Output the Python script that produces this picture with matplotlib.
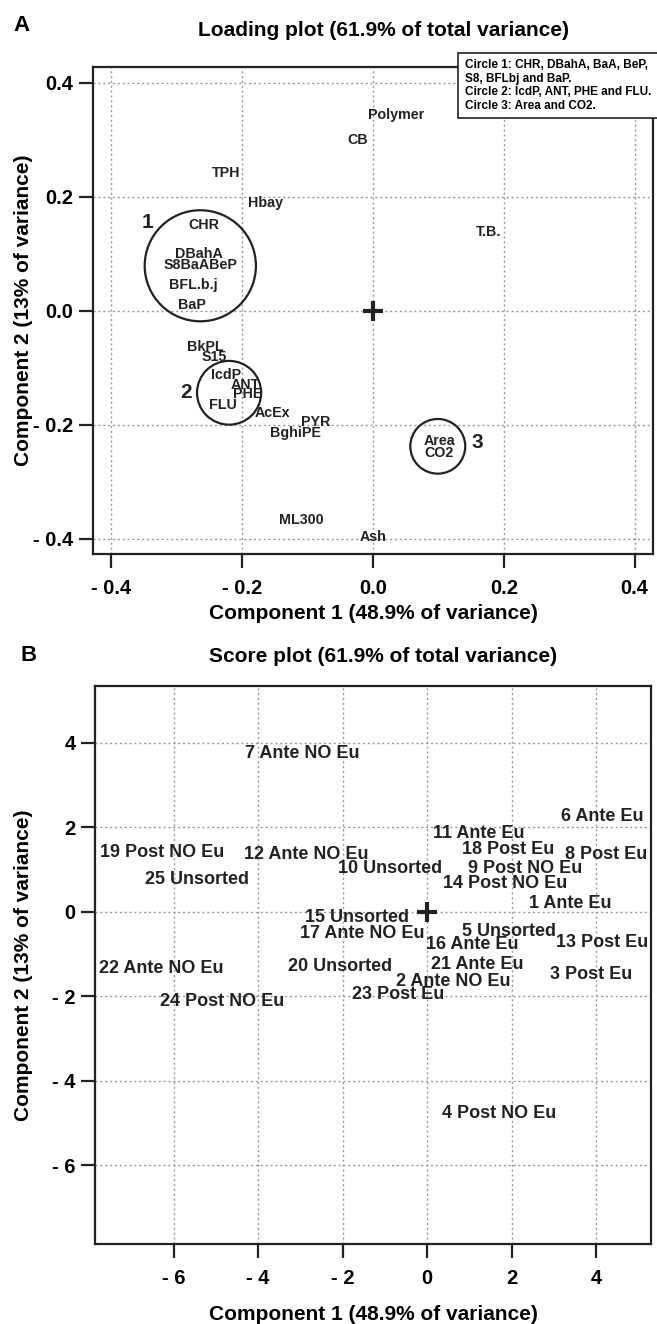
import matplotlib
matplotlib.use("Agg")
import matplotlib.pyplot as plt
from matplotlib import font_manager
from matplotlib.patches import Ellipse, Rectangle

names = sorted(set(f.name for f in font_manager.fontManager.ttflist))
NARROW = "Liberation Sans Narrow" if "Liberation Sans Narrow" in names else "Liberation Sans"
WIDE = "Liberation Sans"

# loading plot data
load_labels = ["Polymer", "CB", "TPH", "Hbay", "T.B.", "CHR", "DBahA", "S8BaABeP",
               "BFL.b.j", "BaP", "BkPL", "S15", "IcdP", "ANT", "PHE", "FLU",
               "AcEx", "PYR", "BghiPE", "Area", "CO2", "ML300", "Ash"]
load_x = [0.035, -0.023, -0.224, -0.164, 0.177, -0.259, -0.266, -0.263,
          -0.275, -0.277, -0.256, -0.243, -0.224, -0.195, -0.192, -0.23,
          -0.154, -0.087, -0.118, 0.101, 0.101, -0.11, 0.0]
load_y = [0.344, 0.30, 0.242, 0.19, 0.138, 0.15, 0.10, 0.081,
          0.046, 0.01, -0.063, -0.082, -0.112, -0.13, -0.146, -0.165,
          -0.18, -0.195, -0.214, -0.229, -0.25, -0.367, -0.397]

circle_ids = ["1", "2", "3"]
circle_cx = [-0.264, -0.22, 0.099]
circle_cy = [0.079, -0.144, -0.238]
circle_w = [0.17, 0.098, 0.084]
circle_h = [0.195, 0.112, 0.096]
circle_num_x = [-0.345, -0.286, 0.16]
circle_num_y = [0.155, -0.143, -0.231]

legend_lines = ["Circle 1: CHR, DBahA, BaA, BeP,", "S8, BFLbj and BaP.",
                "Circle 2: IcdP, ANT, PHE and FLU.", "Circle 3: Area and CO2."]

# score plot data
score_labels = ["7 Ante NO Eu", "6 Ante Eu", "11 Ante Eu", "18 Post Eu", "8 Post Eu",
                "19 Post NO Eu", "12 Ante NO Eu", "10 Unsorted", "9 Post NO Eu",
                "25 Unsorted", "14 Post NO Eu", "1 Ante Eu", "15 Unsorted",
                "17 Ante NO Eu", "5 Unsorted", "16 Ante Eu", "13 Post Eu",
                "22 Ante NO Eu", "20 Unsorted", "21 Ante Eu", "3 Post Eu",
                "2 Ante NO Eu", "23 Post Eu", "24 Post NO Eu", "4 Post NO Eu"]
score_x = [-2.95, 4.15, 1.22, 1.92, 4.24, -6.27, -2.85, -0.88, 2.32, -5.45,
           1.84, 3.4, -1.66, -1.54, 1.93, 1.07, 4.15, -6.29, -2.06, 1.18,
           3.88, 0.62, -0.69, -4.85, 1.71]
score_y = [3.76, 2.25, 1.85, 1.47, 1.37, 1.40, 1.37, 1.02, 1.04, 0.78,
           0.68, 0.21, -0.12, -0.5, -0.47, -0.76, -0.73, -1.33, -1.30, -1.25,
           -1.47, -1.64, -1.96, -2.13, -4.76]

load_ticks = [-0.4, -0.2, 0.0, 0.2, 0.4]
load_ticklabels = ["- 0.4", "- 0.2", "0.0", "0.2", "0.4"]
score_ticks = [-6, -4, -2, 0, 2, 4]
score_ticklabels = ["- 6", "- 4", "- 2", "0", "2", "4"]

xlab = "Component 1 (48.9% of variance)"
ylab = "Component 2 (13% of variance)"
INK = "#222222"

fig = plt.figure(figsize=(6.57, 13.24), dpi=100)


def style_axes(ax, ticks, ticklabels):
    ax.set_xticks(ticks)
    ax.set_yticks(ticks)
    ax.set_xticklabels(ticklabels, fontfamily=WIDE, fontweight="bold", fontsize=14.5)
    ax.set_yticklabels(ticklabels, fontfamily=WIDE, fontweight="bold", fontsize=14.5)
    ax.tick_params(direction="out", length=10, width=1.6, color=INK)
    ax.tick_params(axis="x", pad=8)
    ax.tick_params(axis="y", pad=4)
    for s in ax.spines.values():
        s.set_linewidth(1.6)
        s.set_color(INK)
    ax.grid(True, color="#9a9a9a", linestyle=(0, (1.5, 2)), linewidth=1.0)
    ax.set_axisbelow(True)


# ---- panel A
axA = fig.add_axes([0.1416, 0.5816, 0.8523, 0.3678])
axA.set_xlim(-0.428, 0.428)
axA.set_ylim(-0.427, 0.428)
style_axes(axA, load_ticks, load_ticklabels)
for lab, x, y in zip(load_labels, load_x, load_y):
    axA.text(x, y, lab, ha="center", va="center", fontfamily=NARROW,
             fontweight="bold", fontsize=10.3, color=INK)
for cid, cx, cy, w, h, nx, ny in zip(circle_ids, circle_cx, circle_cy, circle_w,
                                      circle_h, circle_num_x, circle_num_y):
    axA.add_patch(Ellipse((cx, cy), w, h, fill=False, lw=1.6, ec=INK))
    axA.text(nx, ny, cid, ha="center", va="center", fontfamily=NARROW,
             fontweight="bold", fontsize=15, color=INK)
axA.plot([0], [0], marker="+", ms=15, mew=3, color=INK)
axA.set_xlabel(xlab, fontfamily=WIDE, fontweight="bold", fontsize=15)
axA.set_ylabel(ylab, fontfamily=WIDE, fontweight="bold", fontsize=15)
axA.xaxis.set_label_coords(0.5, -0.103)
axA.yaxis.set_label_coords(-0.107, 0.5)
fig.text(0.583, 0.977, "Loading plot (61.9% of total variance)", ha="center",
         va="center", fontfamily=NARROW, fontweight="bold", fontsize=15)
fig.text(0.032, 0.981, "A", ha="center", va="center", fontfamily=WIDE,
         fontweight="bold", fontsize=16)

# legend box
fig.add_artist(Rectangle((0.697, 0.9109), 0.31, 0.049, transform=fig.transFigure,
                         fill=True, fc="white", ec=INK, lw=1.2))
for i, line in enumerate(legend_lines):
    fig.text(0.708, 1 - (65 + 13.7 * i) / 1324, line, ha="left", va="center",
             fontfamily=NARROW, fontweight="bold", fontsize=8.5)

# ---- panel B
axB = fig.add_axes([0.1446, 0.0604, 0.8463, 0.4215])
axB.set_xlim(-7.86, 5.3)
axB.set_ylim(-7.86, 5.35)
style_axes(axB, score_ticks, score_ticklabels)
for lab, x, y in zip(score_labels, score_x, score_y):
    axB.text(x, y, lab, ha="center", va="center", fontfamily=NARROW,
             fontweight="bold", fontsize=13, color=INK)
axB.plot([0], [0], marker="+", ms=15, mew=3, color=INK)
axB.set_xlabel(xlab, fontfamily=WIDE, fontweight="bold", fontsize=15)
axB.set_ylabel(ylab, fontfamily=WIDE, fontweight="bold", fontsize=15)
axB.xaxis.set_label_coords(0.5, -0.109)
axB.yaxis.set_label_coords(-0.1115, 0.5)
fig.text(0.583, 0.504, "Score plot (61.9% of total variance)", ha="center",
         va="center", fontfamily=NARROW, fontweight="bold", fontsize=15)
fig.text(0.044, 0.505, "B", ha="center", va="center", fontfamily=WIDE,
         fontweight="bold", fontsize=16)

fig.savefig("out.png", dpi=100)
